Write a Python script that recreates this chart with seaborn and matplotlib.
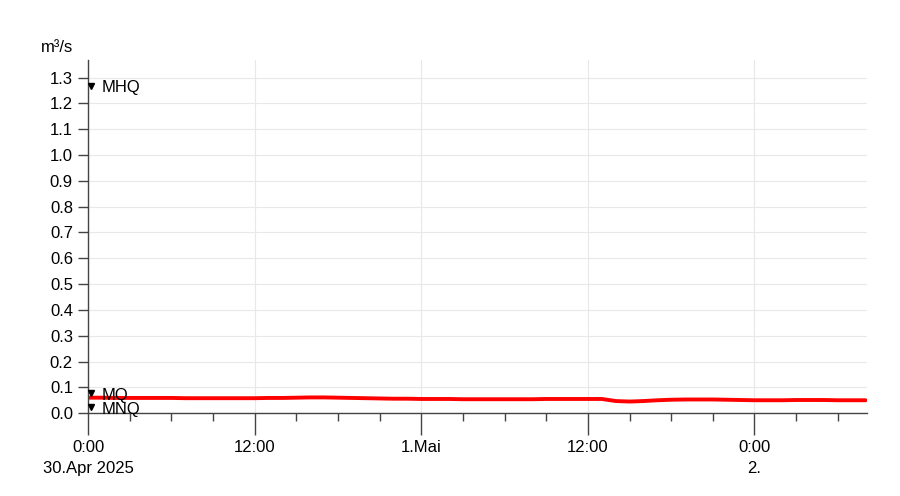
import matplotlib
matplotlib.use("Agg")
import matplotlib.pyplot as plt
import matplotlib.dates as mdates
import seaborn as sns
import pandas as pd
import numpy as np

sns.set_style("white")
plt.rcParams["font.family"] = ["Liberation Sans", "DejaVu Sans"]
plt.rcParams["font.size"] = 12
plt.rcParams["text.color"] = "black"

# hourly discharge readings, m³/s, starting 30.04.2025 0:00
start = "2025-04-30 00:00"
flow = [
    0.060, 0.060, 0.059, 0.059, 0.059, 0.059, 0.059, 0.058, 0.058, 0.058,
    0.058, 0.058, 0.058, 0.059, 0.059, 0.060, 0.061, 0.061, 0.060, 0.059,
    0.058, 0.057, 0.056, 0.056, 0.055, 0.055, 0.055, 0.054, 0.054, 0.054,
    0.054, 0.054, 0.054, 0.055, 0.055, 0.055, 0.055, 0.055, 0.047, 0.045,
    0.047, 0.050, 0.052, 0.053, 0.053, 0.053, 0.052, 0.051, 0.050, 0.050,
    0.050, 0.051, 0.051, 0.051, 0.050, 0.050, 0.050,
]
times = pd.date_range(start, periods=len(flow), freq="h")

# characteristic values
ref_names = ["MHQ", "MQ", "MNQ"]
ref_values = [1.268, 0.078, 0.023]

x_ticks = ["2025-04-30 00:00", "2025-04-30 12:00", "2025-05-01 00:00",
           "2025-05-01 12:00", "2025-05-02 00:00"]
x_labels = ["0:00\n30.Apr 2025", "12:00", "1.Mai", "12:00", "0:00\n2."]

df = pd.DataFrame({"time": times, "flow": flow})

fig, ax = plt.subplots(figsize=(9, 4.96), dpi=100)
fig.subplots_adjust(left=0.098, right=0.963, top=0.88, bottom=0.167)

sns.lineplot(data=df, x="time", y="flow", color="#ff0000", lw=2.8, ax=ax)

t0 = pd.Timestamp(start)
t_end = pd.Timestamp("2025-05-02 08:05")
ax.set_xlim(t0, t_end)
ax.set_ylim(0, 1.37)

ax.set_yticks(np.round(np.arange(0, 1.31, 0.1), 1))
ax.yaxis.set_major_formatter(plt.FuncFormatter(lambda y, _: f"{y:.1f}"))

ax.set_xticks(pd.to_datetime(x_ticks))
ax.set_xticklabels(x_labels, ha="center", va="top", linespacing=1.5)
ax.xaxis.set_minor_locator(mdates.HourLocator(byhour=range(0, 24, 3)))

ax.grid(True, which="major", color="#e8e8e8", lw=0.8)
ax.set_axisbelow(True)
ax.tick_params(axis="x", which="major", bottom=True, length=16, width=1,
               color="#444444", pad=3)
ax.tick_params(axis="x", which="minor", bottom=True, length=6, width=1,
               color="#444444")
ax.tick_params(axis="y", which="major", left=True, length=7, width=1,
               color="#444444", pad=4)
ax.tick_params(labelsize=12, labelcolor="black")
for s in ["left", "bottom"]:
    ax.spines[s].set_color("#444444")
    ax.spines[s].set_linewidth(1)
sns.despine(ax=ax)

for name, val in zip(ref_names, ref_values):
    ax.plot([t0 + pd.Timedelta(minutes=10)], [val], marker="v", color="black",
            ms=5, clip_on=False, zorder=5)
    ax.annotate(name, (t0, val), xytext=(10, -1.5), textcoords="offset points",
                va="center", ha="left", fontsize=12, color="black")

ax.set_xlabel("")
ax.set_ylabel("")
fig.text(0.045, 0.905, "m³/s", fontsize=12, ha="left", va="center", color="black")

plt.savefig("out.png", dpi=100, facecolor="w")
